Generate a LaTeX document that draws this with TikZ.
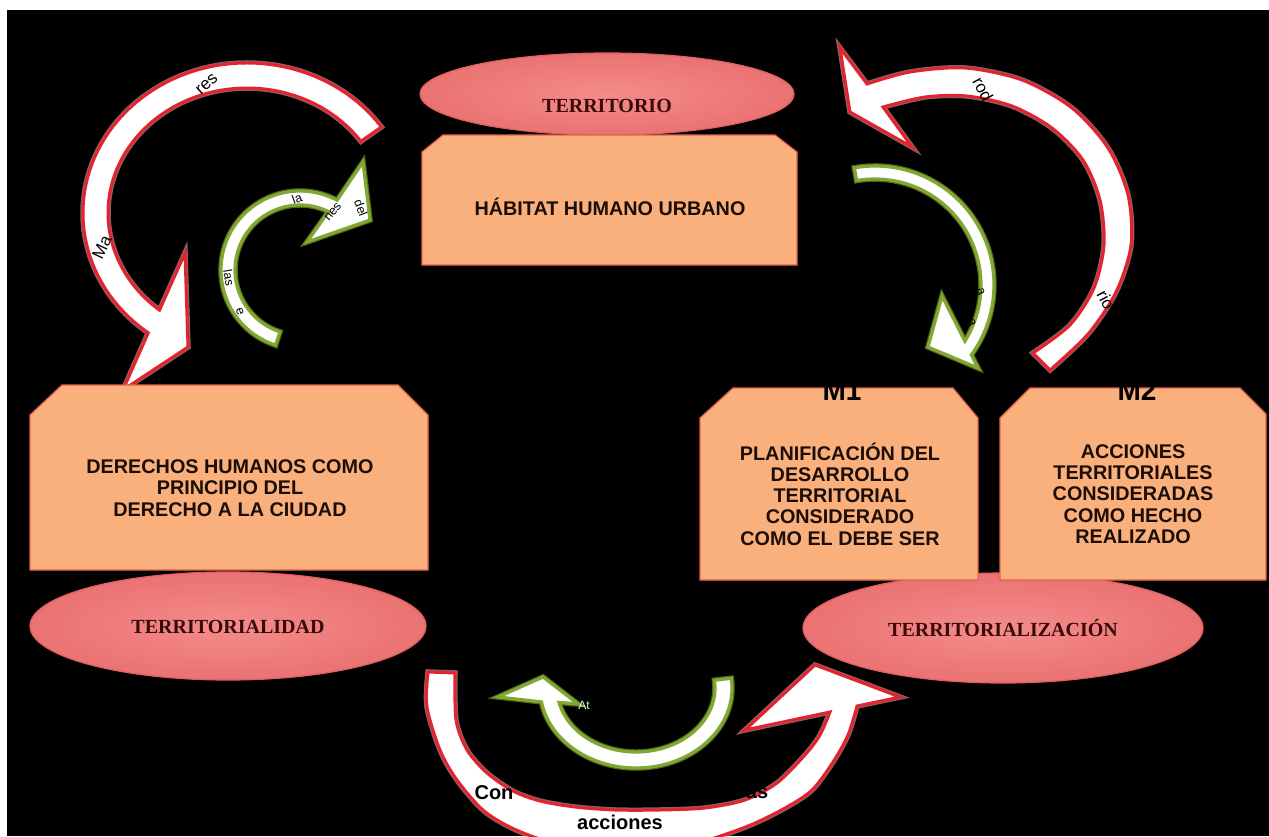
\documentclass[tikz,border=0pt]{standalone}
\usepackage{fontspec}
\setmainfont{Liberation Sans}
\newfontfamily\serifb{Liberation Serif}
\usetikzlibrary{calc,shapes.geometric}
\definecolor{boxfill}{HTML}{F9B07C}
\definecolor{boxline}{HTML}{E2644A}
\definecolor{ellfill}{HTML}{F08282}
\definecolor{ellin}{HTML}{F48C8A}
\definecolor{ellout}{HTML}{EA7272}
\definecolor{ellline}{HTML}{E0605E}
\definecolor{elltext}{HTML}{3A0A0A}
\definecolor{boxtext}{HTML}{1C0E06}
\definecolor{redline}{HTML}{E3232E}
\definecolor{greenline}{HTML}{7FA834}
\begin{document}
\begin{tikzpicture}[x=1pt,y=-1pt,
  boxshape/.style={fill=boxfill,draw=boxline,line width=1.2pt},
  boxtxt/.style={text=boxtext,align=center,inner sep=0pt,font=\fontsize{19.8}{21.2}\selectfont\bfseries},
  ellshape/.style={ellipse,inner color=ellin,outer color=ellout,draw=ellline,line width=1.2pt,inner sep=0pt},
  elltxt/.style={text=elltext,inner sep=0pt,font=\serifb\fontsize{20}{22}\selectfont\bfseries},
  redarrow/.style={fill=white,draw=redline,line width=3pt,line join=miter,
    preaction={draw=redline!45,line width=5.5pt,opacity=0.6}},
  greenarrow/.style={fill=white,draw=greenline,line width=3.2pt,line join=miter,
    preaction={draw=greenline!60!yellow,line width=5.5pt,opacity=0.5}},
  frag/.style={text=black,inner sep=0pt,font=\fontsize{17}{17}\selectfont},
  sfrag/.style={text=black,inner sep=0pt,font=\fontsize{12.5}{12.5}\selectfont},
  mlab/.style={text=black,inner sep=0pt,anchor=base,font=\fontsize{28}{28}\selectfont\bfseries}
]
\useasboundingbox (0,0) rectangle (1269,836);
\fill[white] (0,0) rectangle (1269,836);
\fill[black] (7,10) rectangle (1269,836);

% ellipses
\node[ellshape,minimum width=374pt,minimum height=82pt] (terr) at (607,94) {};
\node[ellshape,minimum width=396pt,minimum height=108pt] (terrdad) at (228,626) {};
\node[ellshape,minimum width=400pt,minimum height=110pt] (terrzn) at (1003,628) {};
\node[elltxt] (terrT) at (607,106) {TERRITORIO};
\node[elltxt] (terrdadT) at (228,627) {TERRITORIALIDAD};
\node[elltxt] (terrznT) at (1003,628) {TERRITORIALIZACIÓN};

% arrows
\filldraw[redarrow] ($(247,213)+(325:164 and 150)$) arc[start angle=325,end angle=127,x radius=164,y radius=150]
  -- (123,390) -- (188,347) -- (185,253) -- ($(247,213)+(129:139 and 125)$)
  arc[start angle=129,end angle=325,x radius=139,y radius=125] -- cycle;
\filldraw[greenarrow] ($(300,270)+(108:79)$) arc[start angle=108,end angle=298,radius=79]
  -- (363,162) -- (370,220) -- (307,242) -- ($(300,270)+(296:65)$)
  arc[start angle=296,end angle=108,radius=65] -- cycle;
\filldraw[redarrow] plot[smooth] coordinates {(1050,370) (1088,334) (1116,292) (1131,245) (1128,195) (1108,148) (1072,108) (1022,80) (965,68) (910,72) (867,84)}
  -- (840,48) -- (850,112) -- (912,147)
  -- plot[smooth] coordinates {(883,107) (925,97) (967,96) (1012,106) (1052,128) (1083,160) (1100,200) (1104,245) (1094,288) (1070,325) (1033,353)} -- cycle;
\filldraw[greenarrow] ($(875,285)+(260:119)$) arc[start angle=260,end angle=396,radius=119]
  -- (978,368) -- (928,347) -- (942,296) -- ($(875,285)+(392:106)$)
  arc[start angle=392,end angle=260,radius=106] -- cycle;
\filldraw[redarrow] plot[smooth] coordinates {(428,672) (427,707) (440,750) (457,780) (483,810) (512,828) (550,842) (600,850) (650,849) (700,842) (748,826) (785,808) (812,790) (833,762) (848,735) (857,706)}
  -- (900,697) -- (815,665) -- (745,730)
  -- plot[smooth] coordinates {(830,712) (820,735) (805,755) (777,783) (745,800) (705,808) (660,810) (615,810) (575,807) (540,801) (513,791) (487,773) (467,750) (456,720) (455,673)} -- cycle;
\filldraw[greenarrow] ($(636,688)+(-7:96 and 80)$) arc[start angle=-7,end angle=170,x radius=96,y radius=80]
  -- (498,697) -- (543,677) -- (578,704) -- ($(636,688)+(167:79 and 64)$)
  arc[start angle=167,end angle=-7,x radius=79,y radius=64] -- cycle;

% boxes
\filldraw[boxshape] (422,152) -- (443,135) -- (775,135) -- (797,152) -- (797,265) -- (422,265) -- cycle;
\filldraw[boxshape] (30,415) -- (62,385) -- (398,385) -- (428,415) -- (428,570) -- (30,570) -- cycle;
\filldraw[boxshape] (700,418) -- (733,388) -- (953,388) -- (978,418) -- (978,580) -- (700,580) -- cycle;
\filldraw[boxshape] (1000,418) -- (1030,388) -- (1240,388) -- (1266,414) -- (1266,580) -- (1000,580) -- cycle;

\node[boxtxt] (habitat) at (610,207) {HÁBITAT HUMANO URBANO};
\node[boxtxt] (derechos) at (230,488) {DERECHOS HUMANOS COMO\\PRINCIPIO DEL\\DERECHO A LA CIUDAD};
\node[boxtxt] (m1t) at (840,494) {PLANIFICACIÓN DEL\\DESARROLLO\\TERRITORIAL\\CONSIDERADO\\COMO EL DEBE SER};
\node[boxtxt] (m2t) at (1133,494) {ACCIONES\\TERRITORIALES\\CONSIDERADAS\\COMO HECHO\\REALIZADO};
\node[mlab] (m1) at (842,400) {M1};
\node[mlab] (m2) at (1137,400) {M2};

% text fragments on the arrows
\node[frag,rotate=65] (fMa) at (102,247) {Ma};
\node[frag,rotate=42] (fres) at (207,84) {res};
\node[sfrag,rotate=20] (fla) at (297,199) {la};
\node[sfrag,rotate=50] (fnes) at (333,212) {nes};
\node[sfrag,rotate=-70] (fdel) at (361,208) {del};
\node[sfrag,rotate=-80] (flas) at (229,278) {las};
\node[sfrag,rotate=-70] (fe) at (240,312) {e};
\node[frag,rotate=-62] (frod) at (983,89) {rod};
\node[frag,rotate=-62] (frio) at (1106,300) {rio};
\node[sfrag,rotate=-70] (fa1) at (981,292) {a};
\node[sfrag,rotate=-70] (fa2) at (972,323) {a};
\node[inner sep=0pt,text=white!80!green,font=\fontsize{12}{12}\selectfont] (fAt) at (584,705) {At};
\node[frag,font=\fontsize{20}{20}\selectfont\bfseries] (fCon) at (494,793) {Con};
\node[frag,font=\fontsize{20}{20}\selectfont\bfseries] (fas) at (757,793) {as};
\node[frag,font=\fontsize{20}{20}\selectfont\bfseries] (facc) at (620,822) {acciones};
\end{tikzpicture}
\end{document}
